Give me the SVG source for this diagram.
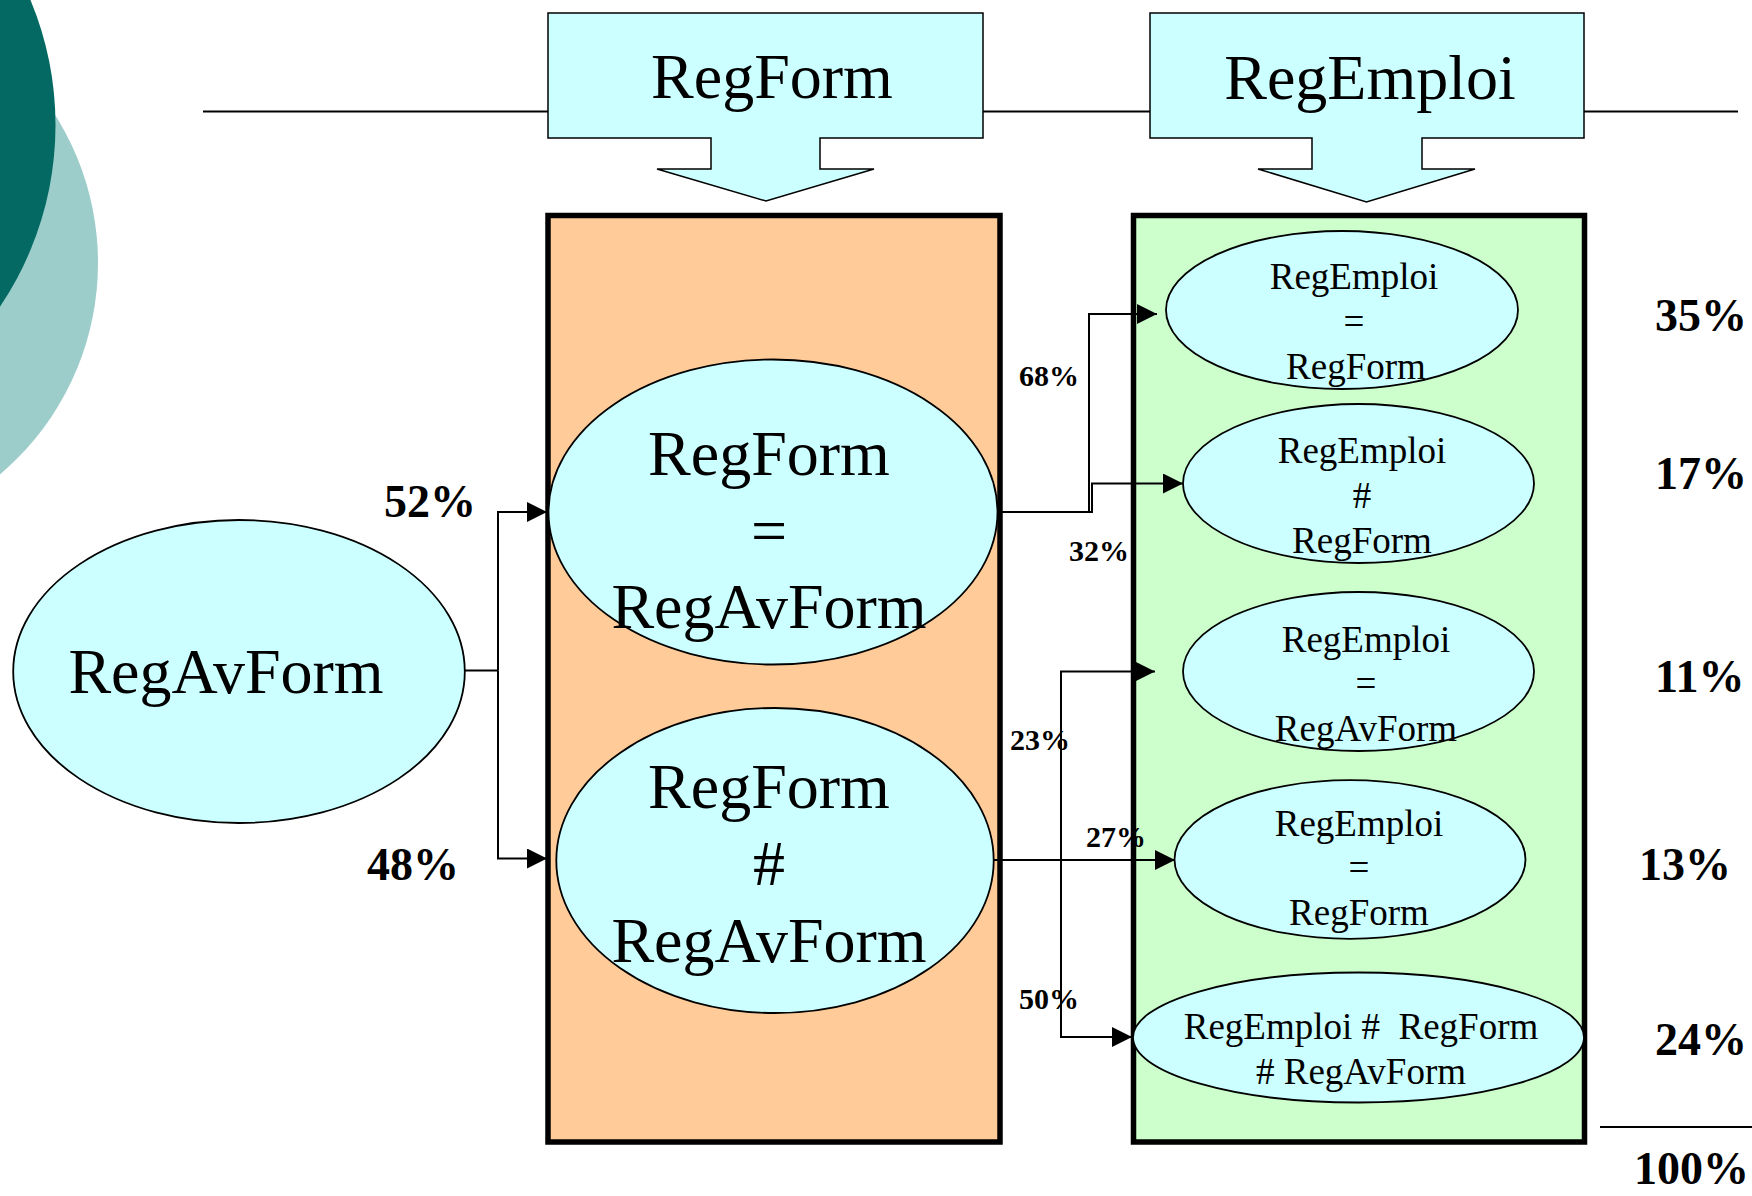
<svg xmlns="http://www.w3.org/2000/svg" width="1752" height="1196" viewBox="0 0 1752 1196">
<style>
.ell{fill:#CCFFFF;stroke:#000;stroke-width:1.8}
.hdr{fill:#CCFFFF;stroke:#000;stroke-width:1.5}
.big{font-family:"Liberation Serif","Times New Roman",serif;font-size:64px;fill:#000;text-anchor:middle}
.sm{font-family:"Liberation Serif","Times New Roman",serif;font-size:37px;fill:#000;text-anchor:middle;white-space:pre}
.pct{font-family:"Liberation Serif","Times New Roman",serif;font-size:46px;font-weight:bold;fill:#000}
.lbl{font-family:"Liberation Serif","Times New Roman",serif;font-size:30px;font-weight:bold;fill:#000}
.con{fill:none;stroke:#000;stroke-width:2}
</style>
<defs>
<marker id="arr" markerUnits="userSpaceOnUse" markerWidth="20" markerHeight="20" viewBox="0 0 20 20" refX="20" refY="10" orient="auto">
<path d="M0,0 L20,10 L0,20 Z" fill="#000"/>
</marker>
</defs>
<rect width="1752" height="1196" fill="#fff"/>
<g id="decor">
<circle cx="-179" cy="263" r="277" fill="#9CCDCB"/>
<circle cx="-269.5" cy="125" r="325" fill="#036962"/>
<line x1="203" y1="111.5" x2="1738" y2="111.5" stroke="#000" stroke-width="2"/>
</g>
<g id="hdr-regform">
<path class="hdr" d="M548,13 H983 V138 H820 V169 H874 L766,201 L657,169 H711 V138 H548 Z"/>
<text class="big" x="772" y="98">RegForm</text>
</g>
<g id="hdr-regemploi">
<path class="hdr" d="M1150,13 H1584 V138 H1422 V169 H1475 L1366.5,202 L1258,169 H1312 V138 H1150 Z"/>
<text class="big" x="1370" y="99">RegEmploi</text>
</g>
<g id="box-form">
<rect x="548" y="215.5" width="452" height="926.5" fill="#FFCC99" stroke="#000" stroke-width="5.5"/>
</g>
<g id="box-emploi">
<rect x="1133.5" y="215.5" width="451" height="926.5" fill="#CCFFCC" stroke="#000" stroke-width="5.5"/>
</g>
<g id="n-regavform">
<ellipse class="ell" cx="239" cy="671.5" rx="225.8" ry="151.5"/>
<text class="big" x="226" y="693">RegAvForm</text>
</g>
<g id="n-form-eq">
<ellipse class="ell" cx="773" cy="512" rx="224.5" ry="152.5"/>
<text class="big" x="769" y="475">RegForm</text>
<text class="big" x="769" y="552">=</text>
<text class="big" x="769" y="628">RegAvForm</text>
</g>
<g id="n-form-ne">
<ellipse class="ell" cx="775" cy="860.5" rx="218.7" ry="152.5"/>
<text class="big" x="769" y="808">RegForm</text>
<text class="big" x="769" y="885">#</text>
<text class="big" x="769" y="962">RegAvForm</text>
</g>
<g id="n-e1">
<ellipse class="ell" cx="1342" cy="310" rx="176" ry="79"/>
<text class="sm" x="1354" y="289">RegEmploi</text>
<text class="sm" x="1354" y="334">=</text>
<text class="sm" x="1356" y="379">RegForm</text>
</g>
<g id="n-e2">
<ellipse class="ell" cx="1358.5" cy="483.5" rx="175.5" ry="79.5"/>
<text class="sm" x="1362" y="463">RegEmploi</text>
<text class="sm" x="1362" y="508">#</text>
<text class="sm" x="1362" y="553">RegForm</text>
</g>
<g id="n-e3">
<ellipse class="ell" cx="1358.5" cy="671.5" rx="175.5" ry="79.5"/>
<text class="sm" x="1366" y="652">RegEmploi</text>
<text class="sm" x="1366" y="696">=</text>
<text class="sm" x="1366" y="741">RegAvForm</text>
</g>
<g id="n-e4">
<ellipse class="ell" cx="1350" cy="859.5" rx="175.5" ry="79.3"/>
<text class="sm" x="1359" y="836">RegEmploi</text>
<text class="sm" x="1359" y="880">=</text>
<text class="sm" x="1359" y="925">RegForm</text>
</g>
<g id="n-e5">
<ellipse class="ell" cx="1358.5" cy="1037.5" rx="225.5" ry="65"/>
<text class="sm" x="1361" y="1039">RegEmploi #  RegForm</text>
<text class="sm" x="1361" y="1084"># RegAvForm</text>
</g>
<g id="connectors">
<path class="con" d="M465,670.5 H498"/>
<path class="con" d="M498,670.5 V512 H547" marker-end="url(#arr)"/>
<path class="con" d="M498,670.5 V858.5 H547" marker-end="url(#arr)"/>
<path class="con" d="M997,512 H1089 V314 H1157" marker-end="url(#arr)"/>
<path class="con" d="M1089,512 H1092 V483.5 H1183" marker-end="url(#arr)"/>
<path class="con" d="M994,860 H1061 V671.5 H1155" marker-end="url(#arr)"/>
<path class="con" d="M1061,860 H1175" marker-end="url(#arr)"/>
<path class="con" d="M1061,860 V1037 H1132" marker-end="url(#arr)"/>
</g>
<g id="labels">
<text class="pct" x="384" y="517">52%</text>
<text class="pct" x="367" y="880">48%</text>
<text class="lbl" x="1019" y="386">68%</text>
<text class="lbl" x="1069" y="561">32%</text>
<text class="lbl" x="1010" y="750">23%</text>
<text class="lbl" x="1086" y="847">27%</text>
<text class="lbl" x="1019" y="1009">50%</text>
<text class="pct" x="1655" y="331">35%</text>
<text class="pct" x="1655" y="489">17%</text>
<text class="pct" x="1655" y="692">11%</text>
<text class="pct" x="1639" y="880">13%</text>
<text class="pct" x="1655" y="1055">24%</text>
<line x1="1600" y1="1127" x2="1752" y2="1127" stroke="#000" stroke-width="2"/>
<text class="pct" x="1634" y="1184">100%</text>
</g>
</svg>
